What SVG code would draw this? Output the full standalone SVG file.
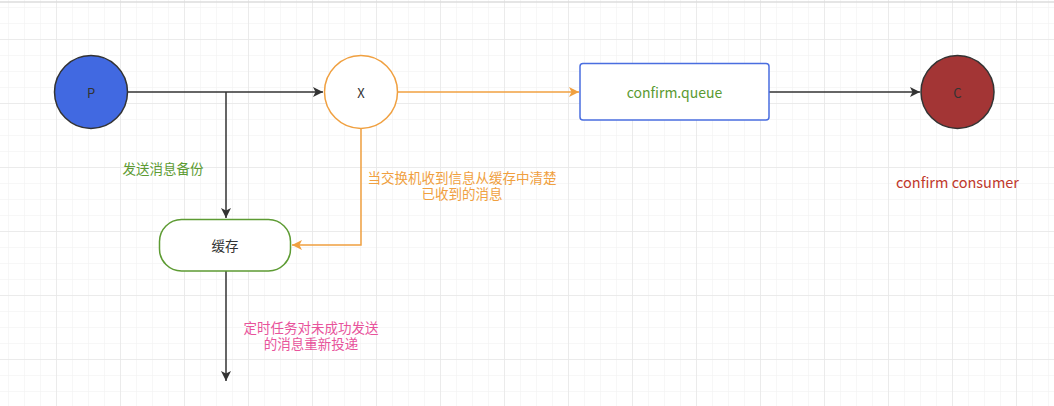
<svg xmlns="http://www.w3.org/2000/svg" width="1054" height="406" viewBox="0 0 1054 406">
<defs>
<pattern id="gs" width="16" height="16" patternUnits="userSpaceOnUse" x="8" y="7"><path d="M0 0H16M0 0V16" fill="none" stroke="#f0f0f0" stroke-width="1"/></pattern>
<pattern id="gl" width="64" height="64" patternUnits="userSpaceOnUse" x="56" y="39"><path d="M0 0H64M0 0V64" fill="none" stroke="#e8e8e8" stroke-width="1.5"/></pattern>
<marker id="ad" viewBox="0 0 10 10" refX="10" refY="5" markerWidth="10" markerHeight="10" markerUnits="userSpaceOnUse" orient="auto"><path d="M0 0L10 5L0 10L2.5 5Z" fill="#333"/></marker>
<marker id="ao" viewBox="0 0 10 10" refX="10" refY="5" markerWidth="10" markerHeight="10" markerUnits="userSpaceOnUse" orient="auto"><path d="M0 0L10 5L0 10L2.5 5Z" fill="#f0a040"/></marker>
</defs>
<style>
text{font-family:"Noto Sans CJK SC","Liberation Sans",sans-serif;text-anchor:middle;dominant-baseline:central}
.dk{fill:none;stroke:#333;stroke-width:1.5}
.or{fill:none;stroke:#f0a040;stroke-width:1.5}
.lbl{font-size:13.5px}
</style>
<rect width="1054" height="406" fill="#fff"/>
<rect width="1054" height="406" fill="url(#gs)"/>
<rect width="1054" height="406" fill="url(#gl)"/>
<line x1="0" y1="2" x2="1054" y2="2" stroke="#dcdcdc" stroke-width="1.5"/>
<g id="connectors">
<path class="dk" d="M128 92H323" marker-end="url(#ad)"/>
<path class="dk" d="M226 92V218" marker-end="url(#ad)"/>
<path class="or" d="M398 92H579" marker-end="url(#ao)"/>
<path class="dk" d="M769 92H920" marker-end="url(#ad)"/>
<path class="or" d="M361 129V245H292" marker-end="url(#ao)"/>
<path class="dk" d="M226 271V381" marker-end="url(#ad)"/>
</g>
<g id="P"><circle cx="91" cy="92" r="36.5" fill="#4169e1" stroke="#333" stroke-width="1.5"/><text x="91" y="92" font-size="13" fill="#333">P</text></g>
<g id="X"><circle cx="361" cy="92" r="36.5" fill="#fff" stroke="#f0a040" stroke-width="1.5"/><text x="361" y="92" font-size="13" fill="#333">X</text></g>
<g id="queue"><rect x="580" y="63.5" width="189" height="56.5" rx="3" fill="#fff" stroke="#4a6ee0" stroke-width="1.5"/><text x="674.5" y="92" font-size="14" fill="#5a9a32">confirm.queue</text></g>
<g id="C"><circle cx="957.5" cy="92" r="36.5" fill="#a33535" stroke="#333" stroke-width="1.5"/><text x="957.5" y="92" font-size="13" fill="#333">C</text></g>
<g id="cache"><rect x="159.5" y="219.5" width="131" height="51.5" rx="22" fill="#fff" stroke="#5d9b33" stroke-width="1.5"/><text x="225" y="245" class="lbl" fill="#333">缓存</text></g>
<g id="labels">
<text x="163" y="168" class="lbl" fill="#5d9b33">发送消息备份</text>
<text class="lbl" fill="#f0a040"><tspan x="462" y="177">当交换机收到信息从缓存中清楚</tspan><tspan x="462" y="193">已收到的消息</tspan></text>
<text x="957.5" y="181" font-size="14.5" fill="#c0392b">confirm consumer</text>
<text class="lbl" fill="#e8539b"><tspan x="311" y="327">定时任务对未成功发送</tspan><tspan x="311" y="343">的消息重新投递</tspan></text>
</g>
</svg>
